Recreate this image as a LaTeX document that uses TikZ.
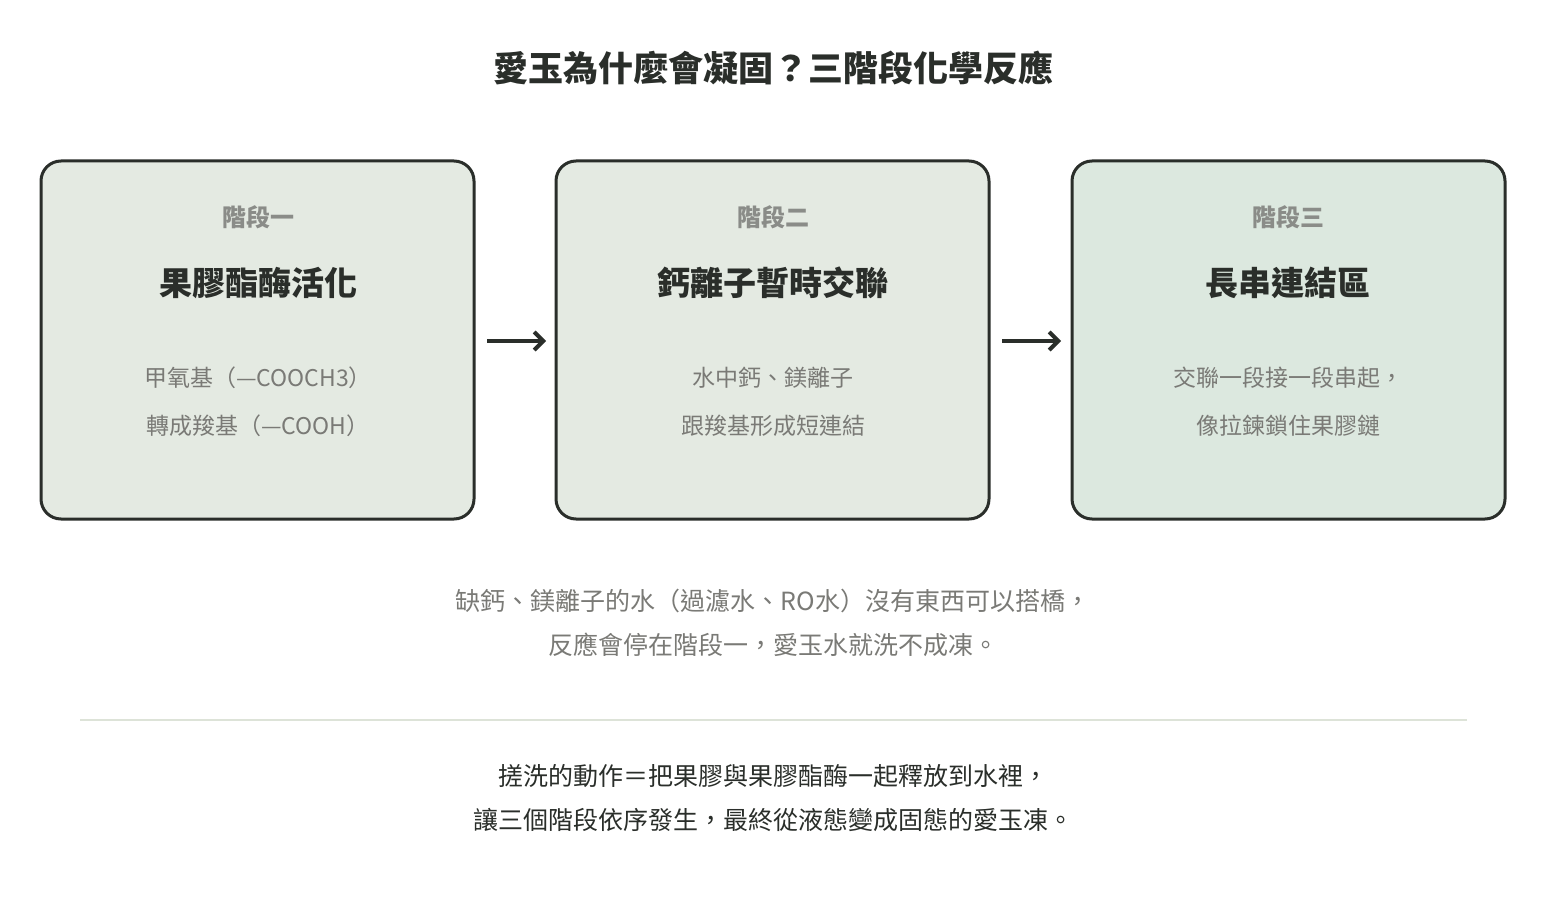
\documentclass[tikz,border=0pt]{standalone}
\usepackage{fontspec}
\setmainfont{Noto Sans CJK TC}
\newfontfamily\cjkbold{Noto Sans CJK TC Bold}
\usetikzlibrary{arrows.meta}
\definecolor{inkdark}{HTML}{2A2E2A}
\definecolor{inkgray}{HTML}{7A7A76}
\definecolor{stagegray}{HTML}{8A8C88}
\definecolor{boxfill}{HTML}{E4EAE2}
\definecolor{boxfillb}{HTML}{DCE8DF}
\definecolor{rulegreen}{HTML}{DDE3D8}
\begin{document}
\begin{tikzpicture}[x=1pt, y=-1pt]

  \tikzset{
    stage box/.style={draw=inkdark, line width=3pt, rounded corners=20pt, fill=boxfill},
    stage tag/.style={font=\fontsize{24}{28}\selectfont\bfseries, text=stagegray},
    stage head/.style={font=\fontsize{33}{38}\selectfont\bfseries, text=inkdark},
    stage body/.style={font=\fontsize{23}{48}\selectfont, text=inkgray, align=center},
    step arrow/.style={draw=inkdark, line width=4pt, -{Straight Barb[length=9pt,width=18pt,line width=4pt]}},
    note/.style={font=\fontsize{25}{44}\selectfont, align=center},
  }

  \useasboundingbox[fill=white] (0,0) rectangle (1546,920);

  \node[font=\fontsize{35}{40}\selectfont\bfseries, text=inkdark] (title) at (773,68) {愛玉為什麼會凝固？三階段化學反應};

  \foreach \n/\x/\f in {one/41/boxfill,two/556/boxfill,three/1072/boxfillb} {
    \draw[stage box, fill=\f] (\x,161) rectangle ++(433,358);
    \coordinate (box\n) at (\x+216.5,0);
  }

  \node[stage tag] (tagone) at (258,217) {階段一};
  \node[stage tag] (tagtwo) at (773,217) {階段二};
  \node[stage tag] (tagthree) at (1288,217) {階段三};

  \node[stage head] (headone) at (258,283) {果膠酯酶活化};
  \node[stage head] (headtwo) at (773,283) {鈣離子暫時交聯};
  \node[stage head] (headthree) at (1288,283) {長串連結區};

  \node[stage body] (bodyone) at (258,402) {甲氧基（—COOCH3）\\轉成羧基（—COOH）};
  \node[stage body] (bodytwo) at (773,402) {水中鈣、鎂離子\\跟羧基形成短連結};
  \node[stage body] (bodythree) at (1288,402) {交聯一段接一段串起，\\像拉鍊鎖住果膠鏈};

  \coordinate (aone) at (487,341);
  \coordinate (bone) at (546,341);
  \coordinate (atwo) at (1002,341);
  \coordinate (btwo) at (1061,341);
  \draw[step arrow] (aone) -- (bone);
  \draw[step arrow] (atwo) -- (btwo);

  \node[note, text=inkgray] (caveat) at (773,623) {缺鈣、鎂離子的水（過濾水、RO水）沒有東西可以搭橋，\\反應會停在階段一，愛玉水就洗不成凍。};

  \coordinate (ruleleft) at (80,720);
  \coordinate (ruleright) at (1467,720);
  \draw[rulegreen, line width=1.5pt] (ruleleft) -- (ruleright);

  \node[note, text=inkdark] (summary) at (773,798) {搓洗的動作＝把果膠與果膠酯酶一起釋放到水裡，\\讓三個階段依序發生，最終從液態變成固態的愛玉凍。};

\end{tikzpicture}
\end{document}
